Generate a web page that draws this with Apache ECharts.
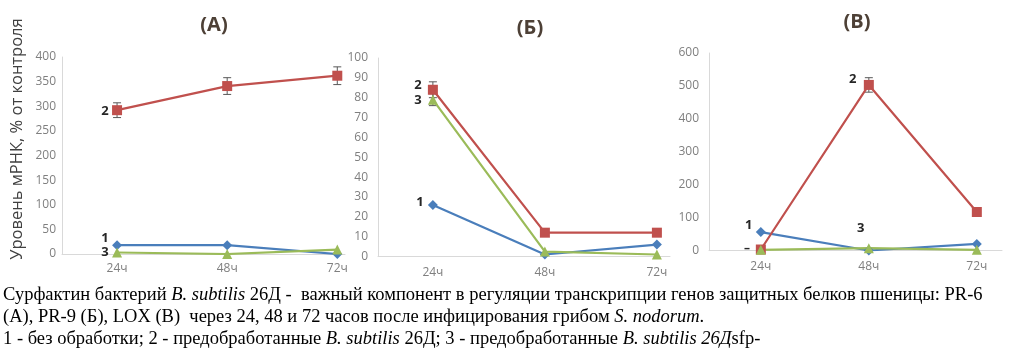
<!DOCTYPE html>
<html><head><meta charset="utf-8">
<script src="https://cdn.jsdelivr.net/npm/echarts@6/dist/echarts.min.js"></script>
<style>html,body{margin:0;padding:0;background:#fff}#c{width:1024px;height:362px}</style>
</head><body><div id="c"></div>
<script>
// ---- data ----
const categories = ['24ч', '48ч', '72ч'];
const seriesNames = ['1', '2', '3'];
const titles = ['(А)', '(Б)', '(В)'];
const yAxisName = 'Уровень мРНК, % от контроля';
// (А) PR-6
const yTicksA = [0, 50, 100, 150, 200, 250, 300, 350, 400];
const a1 = [18, 18, 0];
const a2 = [292, 341, 362];
const a3 = [3, 0, 9];
const a2err = [15, 17, 18];
// (Б) PR-9
const yTicksB = [0, 10, 20, 30, 40, 50, 60, 70, 80, 90, 100];
const b1 = [26, 1, 6];
const b2 = [84, 12, 12];
const b3 = [79, 2.5, 1];
const b2err = [4, null, null];
const b3err = [3, null, null];
// (В) LOX
const yTicksC = [0, 100, 200, 300, 400, 500, 600];
const c1 = [56, 0, 20];
const c2 = [3, 503, 117];
const c3 = [2, 7, 2];
const c2err = [null, 22, null];

// ---- styling / layout ----
const colors = ['#4a7ebb', '#c0504d', '#9bbb59'];
const symbols = ['diamond', 'rect', 'triangle'];
const symbolSizes = [10, 10, 10];
const grids = [
  {left: 62, top: 57, width: 283, height: 197},
  {left: 378, top: 58, width: 292, height: 198.5},
  {left: 709, top: 53, width: 293, height: 197.5}
];
const xRanges = [[-0.5, 2.07], [-0.49, 2.117], [-0.48, 2.233]];
const yTickSets = [yTicksA, yTicksB, yTicksC];
const yLabelMargins = [6, 10, 10];
const xLabelMargins = [9, 10, 10];
const seriesData = [[a1, a2, a3], [b1, b2, b3], [c1, c2, c3]];
const errData = [[null, a2err, null], [null, b2err, b3err], [null, c2err, null]];
// point-label placements: chart -> series -> {index: [dx, dy]}
const labelPlace = [
  [{0: [-12, -7]}, {0: [-12, 1]}, {0: [-12, 0]}],
  [{0: [-13, -3]}, {0: [-15, -4]}, {0: [-15, 1]}],
  [{0: [-12, -7]}, {1: [-16, -6]}, {1: [-8, -20]}]
];

const option = {
  animation: false,
  grid: grids.map(g => Object.assign({containLabel: false}, g)),
  xAxis: grids.map((g, k) => ({
    gridIndex: k, type: 'value', min: xRanges[k][0], max: xRanges[k][1],
    splitLine: {show: false},
    axisTick: {show: false},
    axisLine: {show: true, onZero: false, lineStyle: {color: '#d9d9d9', width: 1}},
    axisLabel: {
      customValues: categories.map((c, i) => i),
      formatter: v => categories[Math.round(v)] || '',
      color: '#7f7f7f', fontSize: 12, fontFamily: 'Open Sans', margin: xLabelMargins[k]
    }
  })),
  yAxis: grids.map((g, k) => {
    const t = yTickSets[k];
    return {
      gridIndex: k, type: 'value', min: t[0], max: t[t.length - 1], interval: t[1] - t[0],
      splitLine: {show: false},
      axisTick: {show: false},
      axisLine: {show: true, onZero: false, lineStyle: {color: '#d9d9d9', width: 1}},
      axisLabel: {color: '#7f7f7f', fontSize: 12, fontFamily: 'Open Sans', margin: yLabelMargins[k]}
    };
  }),
  series: [],
  graphic: []
};

seriesData.forEach((chart, k) => {
  chart.forEach((vals, s) => {
    const place = labelPlace[k][s];
    option.series.push({
      type: 'line', name: seriesNames[s], xAxisIndex: k, yAxisIndex: k, z: 3,
      symbol: symbols[s], symbolSize: symbolSizes[s],
      lineStyle: {color: colors[s], width: 2.2},
      itemStyle: {color: colors[s]},
      data: vals.map((v, i) => {
        const item = {value: [i, v]};
        if (place[i]) {
          item.label = {
            show: true, position: 'inside', offset: place[i],
            formatter: seriesNames[s], color: '#262626',
            fontWeight: 'bold', fontSize: 13, fontFamily: 'Open Sans'
          };
        }
        return item;
      })
    });
    const errs = errData[k][s];
    if (errs) {
      option.series.push({
        type: 'custom', xAxisIndex: k, yAxisIndex: k, z: 2,
        data: vals.map((v, i) => errs[i] == null ? null : [i, v, errs[i]]).filter(Boolean),
        renderItem(params, api) {
          const x = api.value(0), v = api.value(1), e = api.value(2);
          const top = api.coord([x, v + e]), bot = api.coord([x, v - e]);
          const hw = 4, st = {stroke: '#595959', lineWidth: 1};
          return {type: 'group', children: [
            {type: 'line', shape: {x1: top[0], y1: top[1], x2: bot[0], y2: bot[1]}, style: st},
            {type: 'line', shape: {x1: top[0] - hw, y1: top[1], x2: top[0] + hw, y2: top[1]}, style: st},
            {type: 'line', shape: {x1: bot[0] - hw, y1: bot[1], x2: bot[0] + hw, y2: bot[1]}, style: st}
          ]};
        }
      });
    }
  });
});

// titles
const titlePos = [[214, 25], [530, 28], [857, 22]];
titles.forEach((t, k) => option.graphic.push({
  type: 'text', x: titlePos[k][0], y: titlePos[k][1],
  style: {text: t, font: 'bold 20px "Open Sans"', fill: '#4d4036', textAlign: 'center', textVerticalAlign: 'middle'}
}));
// y axis name
option.graphic.push({
  type: 'text', x: 17, y: 139, rotation: Math.PI / 2,
  style: {text: yAxisName, font: '16.5px "Open Sans"', fill: '#404040', textAlign: 'center', textVerticalAlign: 'middle'}
});
// small dash near (В) 24ч
option.graphic.push({
  type: 'text', x: 747, y: 249,
  style: {text: '–', font: 'bold 12px "Open Sans"', fill: '#262626', textAlign: 'center', textVerticalAlign: 'middle'}
});
// caption
const capRich = {
  n: {fontFamily: 'Liberation Serif', fontSize: 18.5, color: '#000'},
  i: {fontFamily: 'Liberation Serif', fontSize: 18.5, color: '#000', fontStyle: 'italic'}
};
const capLines = [
  '{n|Сурфактин бактерий }{i|B. subtilis}{n| 26Д -  важный компонент в регуляции транскрипции генов защитных белков пшеницы: PR-6}',
  '{n|(А), PR-9 (Б), LOX (В)  через 24, 48 и 72 часов после инфицирования грибом }{i|S. nodorum}{n|.}',
  '{n|1 - без обработки; 2 - предобработанные }{i|B. subtilis}{n| 26Д; 3 - предобработанные }{i|B. subtilis 26Д}{n|sfp-}'
];
const capY = [295, 317, 339];
capLines.forEach((t, j) => option.graphic.push({
  type: 'text', x: 3, y: capY[j],
  style: {text: t, rich: capRich, textVerticalAlign: 'middle'}
}));

const chart = echarts.init(document.getElementById('c'), null, {renderer: 'canvas'});
chart.setOption(option);
</script>
</body></html>
